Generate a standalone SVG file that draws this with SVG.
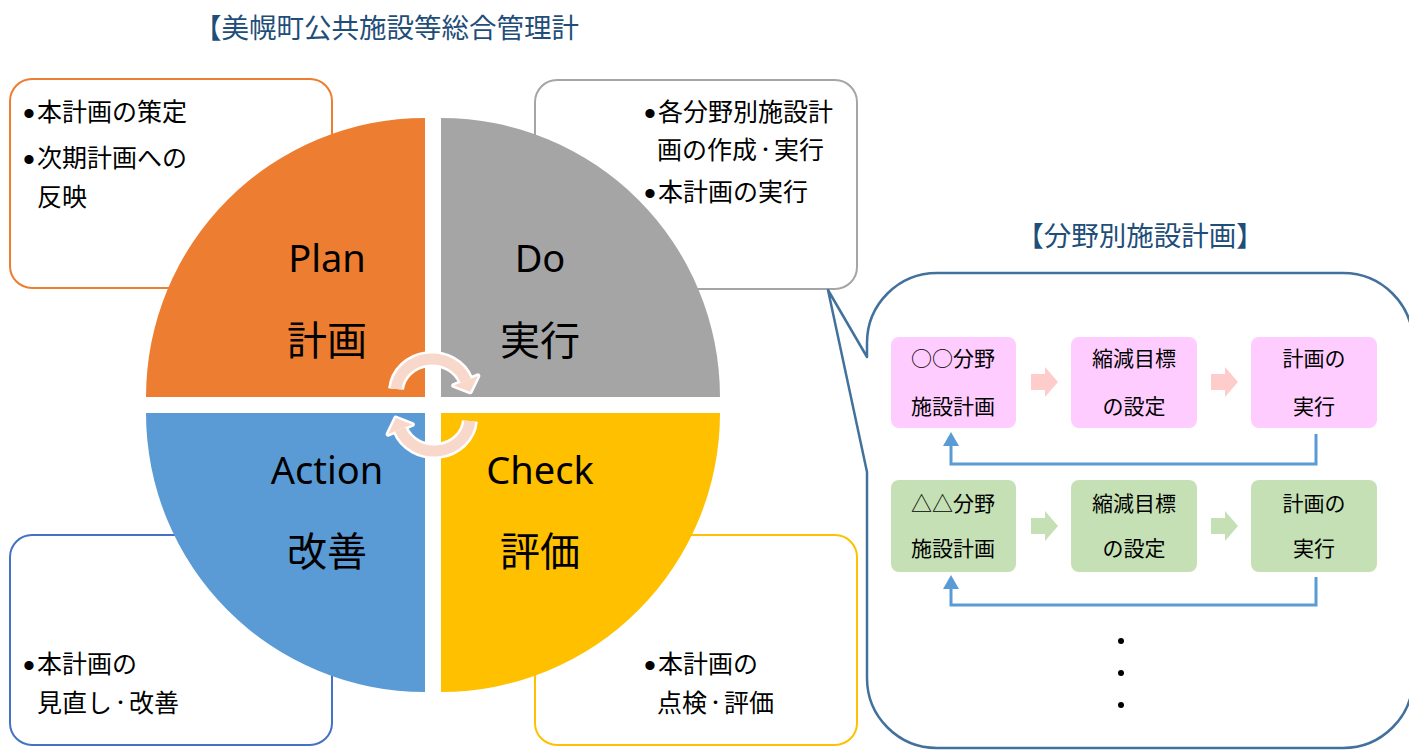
<svg xmlns="http://www.w3.org/2000/svg" width="1409" height="751" viewBox="0 0 1409 751">
<style>
.jp{font-family:"Noto Sans CJK JP","Noto Sans",sans-serif;fill:#000}
.body{font-size:25px}
.bul{font-family:"Liberation Sans",sans-serif;font-size:34px}
.md{font-size:17px}
.pie{font-size:40px}
.lat{font-family:"Noto Sans","Open Sans",sans-serif;font-size:38px;fill:#000}
.ttl{font-family:"Noto Sans CJK JP",sans-serif;font-size:27.5px;fill:#1F4E79}
.bx{font-size:21px}
.note{fill:#fff;stroke-width:2}
.fb{fill:none;stroke:#5B9BD5;stroke-width:3}
</style>
<defs>
<polygon id="blk" points="0,-8 14,-8 14,-15 27,0 14,15 14,8 0,8"/>
</defs>
<rect width="1409" height="751" fill="#fff"/>
<text class="ttl" x="579" y="38" text-anchor="end">【美幌町公共施設等総合管理計</text>

<g id="plan-note">
<rect class="note" x="10" y="79" width="322" height="209" rx="22" stroke="#ED7D31"/>
<text class="jp body" x="23" y="121"><tspan class="bul" dy="4">•</tspan><tspan x="37" dy="-4">本計画の策定</tspan></text>
<text class="jp body" x="23" y="167"><tspan class="bul" dy="4">•</tspan><tspan x="37" dy="-4">次期計画への</tspan></text>
<text class="jp body" x="37" y="206">反映</text>
</g>
<g id="do-note">
<rect class="note" x="535" y="80" width="322" height="209" rx="22" stroke="#A5A5A5"/>
<text class="jp body" x="644" y="121"><tspan class="bul" dy="4">•</tspan><tspan x="658" dy="-4">各分野別施設計</tspan></text>
<text class="jp body" x="657" y="159">画の作成<tspan class="md" dy="-3">・</tspan><tspan dy="3">実行</tspan></text>
<text class="jp body" x="644" y="201"><tspan class="bul" dy="4">•</tspan><tspan x="658" dy="-4">本計画の実行</tspan></text>
</g>
<g id="action-note">
<rect class="note" x="10" y="535" width="322" height="210" rx="22" stroke="#4472C4"/>
<text class="jp body" x="23" y="673"><tspan class="bul" dy="4">•</tspan><tspan x="37" dy="-4">本計画の</tspan></text>
<text class="jp body" x="37" y="712">見直し<tspan class="md" dy="-3">・</tspan><tspan dy="3">改善</tspan></text>
</g>
<g id="check-note">
<rect class="note" x="535" y="535" width="322" height="210" rx="22" stroke="#FFC000"/>
<text class="jp body" x="644" y="673"><tspan class="bul" dy="4">•</tspan><tspan x="658" dy="-4">本計画の</tspan></text>
<text class="jp body" x="657" y="712">点検<tspan class="md" dy="-3">・</tspan><tspan dy="3">評価</tspan></text>
</g>

<g id="plan">
<path d="M425,397 L146,397 A279,279 0 0 1 425,118 Z" fill="#ED7D31"/>
<text class="lat" x="327" y="272" text-anchor="middle">Plan</text>
<text class="jp pie" x="327" y="355" text-anchor="middle">計画</text>
</g>
<g id="do">
<path d="M441,397 L441,118 A279,279 0 0 1 720,397 Z" fill="#A5A5A5"/>
<text class="lat" x="540" y="272" text-anchor="middle">Do</text>
<text class="jp pie" x="540" y="355" text-anchor="middle">実行</text>
</g>
<g id="action">
<path d="M425,413 L425,692 A279,279 0 0 1 146,413 Z" fill="#5B9BD5"/>
<text class="lat" x="327" y="484" text-anchor="middle">Action</text>
<text class="jp pie" x="327" y="566" text-anchor="middle">改善</text>
</g>
<g id="check">
<path d="M441,413 L720,413 A279,279 0 0 1 441,692 Z" fill="#FFC000"/>
<text class="lat" x="540" y="484" text-anchor="middle">Check</text>
<text class="jp pie" x="540" y="566" text-anchor="middle">評価</text>
</g>

<g id="cycle-arrows">
<path d="M396.1,389.1 A36,33 0 0 1 465.8,380.7" fill="none" stroke="#fff" stroke-width="16"/>
<polygon points="477.9,375.9 470.2,391.8 453.7,385.5" fill="#fff" stroke="#fff" stroke-width="5" stroke-linejoin="round"/>
<path d="M469.9,420.9 A36,33 0 0 1 400.2,429.3" fill="none" stroke="#fff" stroke-width="16"/>
<polygon points="388.1,434.1 395.8,418.1 412.3,424.5" fill="#fff" stroke="#fff" stroke-width="5" stroke-linejoin="round"/>
<path d="M396.1,389.1 A36,33 0 0 1 465.8,380.7" fill="none" stroke="#F9D8CC" stroke-width="11"/>
<polygon points="477.9,375.9 470.2,391.8 453.7,385.5" fill="#F9D8CC"/>
<path d="M469.9,420.9 A36,33 0 0 1 400.2,429.3" fill="none" stroke="#F9D8CC" stroke-width="11"/>
<polygon points="388.1,434.1 395.8,418.1 412.3,424.5" fill="#F9D8CC"/>
</g>

<text class="ttl" x="1140" y="246" text-anchor="middle">【分野別施設計画】</text>
<g id="callout">
<path d="M867,357 L828,290 L867,472 L867,678 A70,70 0 0 0 937,748 L1343,748 A70,70 0 0 0 1413,678 L1413,343 A70,70 0 0 0 1343,273 L937,273 A70,70 0 0 0 867,343 Z" fill="#fff" stroke="#41719C" stroke-width="2.5" stroke-linejoin="round"/>
</g>

<g id="p1">
<rect x="891" y="337" width="125" height="91" rx="8" fill="#FFCCFF"/>
<text class="jp bx" x="953" y="366" text-anchor="middle">○○分野</text>
<text class="jp bx" x="953" y="414" text-anchor="middle">施設計画</text>
</g>
<g id="p2">
<rect x="1071" y="337" width="126" height="91" rx="8" fill="#FFCCFF"/>
<text class="jp bx" x="1134" y="366" text-anchor="middle">縮減目標</text>
<text class="jp bx" x="1134" y="414" text-anchor="middle">の設定</text>
</g>
<g id="p3">
<rect x="1251" y="337" width="126" height="91" rx="8" fill="#FFCCFF"/>
<text class="jp bx" x="1314" y="366" text-anchor="middle">計画の</text>
<text class="jp bx" x="1314" y="414" text-anchor="middle">実行</text>
</g>
<g id="g1">
<rect x="891" y="480" width="125" height="92" rx="8" fill="#C5E0B4"/>
<text class="jp bx" x="953" y="511" text-anchor="middle">△△分野</text>
<text class="jp bx" x="953" y="556" text-anchor="middle">施設計画</text>
</g>
<g id="g2">
<rect x="1071" y="480" width="126" height="92" rx="8" fill="#C5E0B4"/>
<text class="jp bx" x="1134" y="511" text-anchor="middle">縮減目標</text>
<text class="jp bx" x="1134" y="556" text-anchor="middle">の設定</text>
</g>
<g id="g3">
<rect x="1251" y="480" width="126" height="92" rx="8" fill="#C5E0B4"/>
<text class="jp bx" x="1314" y="511" text-anchor="middle">計画の</text>
<text class="jp bx" x="1314" y="556" text-anchor="middle">実行</text>
</g>

<g id="connectors">
<use href="#blk" x="1031" y="382" fill="#FFCCCC"/>
<use href="#blk" x="1211" y="382" fill="#FFCCCC"/>
<use href="#blk" x="1031" y="526" fill="#C5E0B4"/>
<use href="#blk" x="1211" y="526" fill="#C5E0B4"/>
<path class="fb" d="M1316,434 L1316,464 L951,464 L951,444"/>
<polygon points="951,432 943,446 959,446" fill="#5B9BD5"/>
<path class="fb" d="M1316,577 L1316,605 L951,605 L951,587"/>
<polygon points="951,575 943,589 959,589" fill="#5B9BD5"/>
</g>

<g id="dots" fill="#000">
<circle cx="1121" cy="641" r="3"/>
<circle cx="1121" cy="673" r="3"/>
<circle cx="1121" cy="705" r="3"/>
</g>
</svg>
